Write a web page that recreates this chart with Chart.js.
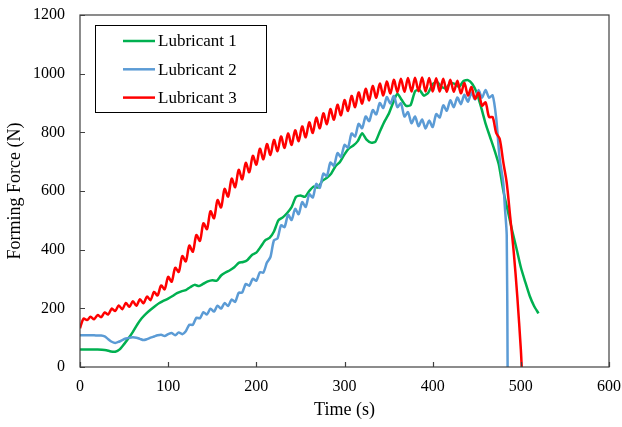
<!DOCTYPE html>
<html>
<head>
<meta charset="utf-8">
<script src="https://cdn.jsdelivr.net/npm/chart.js@4.4.1/dist/chart.umd.min.js"></script>
<style>
  body { margin: 0; background: #fff; }
</style>
</head>
<body>
<canvas id="chart" width="622" height="427"></canvas>
<script>
const SERIES_LABELS = ['Lubricant 1', 'Lubricant 2', 'Lubricant 3'];
const X_TICKS = [0, 100, 200, 300, 400, 500, 600];
const Y_TICKS = [0, 200, 400, 600, 800, 1000, 1200];

// Lubricant 1 (green)
const TIME_L1 = [0, 5, 10, 15, 20, 25, 30, 35, 40, 45, 50, 55, 60, 65, 70, 75, 80, 85, 90, 95,
    100, 105, 110, 115, 120, 125, 130, 135, 140, 145, 150, 155, 160, 165, 170, 175, 180, 185, 190, 195,
    200, 205, 210, 215, 220, 225, 230, 235, 240, 245, 250, 255, 260, 265, 270, 275, 280, 285, 290, 295,
    300, 305, 310, 315, 320, 325, 330, 335, 340, 345, 350, 355, 360, 365, 370, 375, 380, 385, 390, 395,
    400, 405, 410, 415, 420, 425, 430, 435, 440, 445, 450, 455, 460, 465, 470, 475, 480, 485, 490, 495,
    500, 505, 510, 515, 520];
const FORCE_L1 = [60, 60, 60, 60, 60, 59, 57, 53, 52, 60, 78, 98, 120, 145, 166, 182, 195, 207, 218, 226,
    233, 242, 252, 258, 262, 272, 280, 276, 284, 292, 296, 294, 312, 322, 330, 340, 355, 358, 365, 382,
    390, 410, 432, 440, 462, 500, 510, 525, 545, 580, 585, 580, 600, 615, 612, 635, 645, 660, 685, 700,
    725, 745, 755, 770, 797, 775, 765, 768, 802, 835, 862, 900, 932, 910, 890, 893, 940, 945, 925, 935,
    965, 972, 955, 950, 968, 965, 955, 975, 978, 965, 935, 885, 830, 785, 740, 690, 603, 535, 467, 405,
    340, 290, 243, 208, 183];

// Lubricant 2 (blue)
const TIME_L2 = [0, 4, 8, 12, 16, 20, 24, 28, 32, 36, 40, 44, 48, 52, 56, 60, 64, 68, 72, 76,
    80, 84, 88, 92, 96, 100, 104, 108, 112, 116, 120, 124, 128, 132, 136, 140, 144, 148, 152, 156,
    160, 164, 168, 172, 176, 180, 184, 188, 192, 196, 200, 204, 208, 212, 216, 220, 224, 228, 232, 236,
    240, 244, 248, 252, 256, 260, 264, 268, 272, 276, 280, 284, 288, 292, 296, 300, 304, 308, 312, 316,
    320, 324, 328, 332, 336, 340, 344, 348, 352, 356, 360, 364, 368, 372, 376, 380, 384, 388, 392, 396,
    400, 404, 408, 412, 416, 420, 424, 428, 432, 436, 440, 444, 448, 452, 456, 460, 464, 468, 472, 476,
    480, 482, 484, 485];
const FORCE_L2 = [108, 108, 108, 108, 108, 107, 107, 104, 95, 86, 82, 86, 92, 97, 100, 101, 100, 96, 92, 95,
    100, 104, 108, 110, 106, 112, 116, 108, 118, 112, 122, 144, 144, 168, 166, 187, 179, 199, 189, 209,
    199, 218, 208, 230, 222, 253, 254, 283, 277, 301, 294, 323, 322, 356, 375, 432, 438, 483, 477, 519,
    501, 539, 521, 562, 546, 589, 578, 624, 611, 659, 651, 697, 686, 729, 716, 757, 748, 796, 786, 829,
    814, 854, 838, 876, 861, 900, 883, 920, 898, 924, 886, 899, 854, 869, 831, 854, 821, 844, 813, 840,
    818, 862, 851, 892, 874, 909, 886, 919, 896, 928, 904, 936, 912, 944, 918, 944, 918, 926, 850, 710,
    630, 540, 450, 0];

// Lubricant 3 (red)
const TIME_L3 = [0, 4, 8, 12, 16, 20, 24, 28, 32, 36, 40, 44, 48, 52, 56, 60, 64, 68, 72, 76,
    80, 84, 88, 92, 96, 100, 104, 108, 112, 116, 120, 124, 128, 132, 136, 140, 144, 148, 152, 156,
    160, 164, 168, 172, 176, 180, 184, 188, 192, 196, 200, 204, 208, 212, 216, 220, 224, 228, 232, 236,
    240, 244, 248, 252, 256, 260, 264, 268, 272, 276, 280, 284, 288, 292, 296, 300, 304, 308, 312, 316,
    320, 324, 328, 332, 336, 340, 344, 348, 352, 356, 360, 364, 368, 372, 376, 380, 384, 388, 392, 396,
    400, 404, 408, 412, 416, 420, 424, 428, 432, 436, 440, 444, 448, 452, 456, 460, 464, 468, 472, 476,
    480, 484, 488, 492, 496, 500, 501];
const FORCE_L3 = [132, 165, 160, 171, 163, 177, 170, 186, 179, 199, 191, 210, 197, 218, 205, 224, 209, 231, 217, 240,
    228, 256, 244, 278, 265, 307, 291, 338, 324, 378, 360, 414, 393, 450, 430, 490, 470, 531, 507, 569,
    544, 607, 581, 642, 613, 672, 640, 696, 664, 720, 690, 744, 708, 760, 723, 774, 736, 786, 747, 796,
    757, 807, 770, 820, 783, 834, 798, 850, 814, 865, 828, 879, 843, 894, 858, 910, 873, 924, 886, 936,
    898, 948, 909, 958, 918, 966, 926, 973, 932, 979, 937, 983, 938, 985, 939, 986, 940, 987, 939, 985,
    939, 984, 939, 983, 938, 979, 938, 976, 933, 968, 926, 954, 914, 935, 891, 902, 852, 852, 798, 778,
    700, 628, 510, 390, 240, 60, 0];

const COLORS = ['#00B050', '#5B9BD5', '#FF0000'];
const FONT = '"Liberation Serif", "Times New Roman", serif';

function toPoints(xs, ys) {
    return xs.map((x, i) => ({ x: x, y: ys[i] }));
}

// frame + inward tick marks
const frameAndTicks = {
    id: 'frameAndTicks',
    afterDatasetsDraw(chart) {
        const { ctx, chartArea: a, scales } = chart;
        ctx.save();
        ctx.strokeStyle = '#404040';
        ctx.lineWidth = 1.2;
        ctx.strokeRect(a.left, a.top, a.right - a.left, a.bottom - a.top);
        ctx.beginPath();
        X_TICKS.forEach(v => {
            const px = Math.round(scales.x.getPixelForValue(v)) + 0.5;
            ctx.moveTo(px, a.bottom);
            ctx.lineTo(px, a.bottom - 5);
        });
        Y_TICKS.forEach(v => {
            const py = Math.round(scales.y.getPixelForValue(v)) + 0.5;
            ctx.moveTo(a.left, py);
            ctx.lineTo(a.left + 5, py);
        });
        ctx.stroke();
        ctx.restore();
    }
};

// boxed legend inside the plot
const boxLegend = {
    id: 'boxLegend',
    afterDraw(chart) {
        const ctx = chart.ctx;
        ctx.save();
        ctx.fillStyle = '#fff';
        ctx.fillRect(95.5, 25.5, 171, 87);
        ctx.strokeStyle = '#000';
        ctx.lineWidth = 1;
        ctx.strokeRect(95.5, 25.5, 171, 87);
        ctx.font = '17px ' + FONT;
        ctx.textBaseline = 'middle';
        SERIES_LABELS.forEach((label, i) => {
            const y = 41 + i * 28.3;
            ctx.strokeStyle = COLORS[i];
            ctx.lineWidth = 2.5;
            ctx.beginPath();
            ctx.moveTo(123, y);
            ctx.lineTo(155, y);
            ctx.stroke();
            ctx.fillStyle = '#000';
            ctx.fillText(label, 158, y + 1);
        });
        ctx.restore();
    }
};

const ctx = document.getElementById('chart').getContext('2d');
new Chart(ctx, {
    type: 'line',
    data: {
        datasets: [
            { label: SERIES_LABELS[0], data: toPoints(TIME_L1, FORCE_L1), borderColor: COLORS[0], order: 2, tension: 0.2 },
            { label: SERIES_LABELS[1], data: toPoints(TIME_L2, FORCE_L2), borderColor: COLORS[1], order: 1, tension: 0.25 },
            { label: SERIES_LABELS[2], data: toPoints(TIME_L3, FORCE_L3), borderColor: COLORS[2], order: 0, tension: 0.3 }
        ]
    },
    options: {
        responsive: false,
        animation: false,
        layout: { padding: { left: 0, right: 13, top: 15, bottom: 0 } },
        elements: {
            point: { radius: 0 },
            line: { borderWidth: 2.5, fill: false }
        },
        plugins: { legend: { display: false }, tooltip: { enabled: false } },
        scales: {
            x: {
                type: 'linear',
                min: 0,
                max: 600,
                afterBuildTicks: scale => { scale.ticks = X_TICKS.map(v => ({ value: v })); },
                afterFit: scale => {
                    scale.height = 60;
                    scale.paddingLeft = 0;
                    scale.paddingRight = 0;
                },
                grid: { display: false, drawTicks: false },
                border: { display: false },
                ticks: { color: '#000', font: { family: FONT, size: 16 }, padding: 10, maxRotation: 0, callback: v => String(v) },
                title: { display: true, text: 'Time (s)', color: '#000', font: { family: FONT, size: 18 }, padding: { top: 4, bottom: 6 } }
            },
            y: {
                min: 0,
                max: 1200,
                afterBuildTicks: scale => { scale.ticks = Y_TICKS.map(v => ({ value: v })); },
                afterFit: scale => {
                    scale.width = 80;
                    scale.paddingTop = 0;
                    scale.paddingBottom = 0;
                },
                grid: { display: false, drawTicks: false },
                border: { display: false },
                ticks: { color: '#000', font: { family: FONT, size: 16 }, padding: 15, callback: v => String(v) },
                title: { display: true, text: 'Forming Force (N)', color: '#000', font: { family: FONT, size: 18 }, padding: { top: 4, bottom: 4 } }
            }
        }
    },
    plugins: [frameAndTicks, boxLegend]
});
</script>
</body>
</html>
